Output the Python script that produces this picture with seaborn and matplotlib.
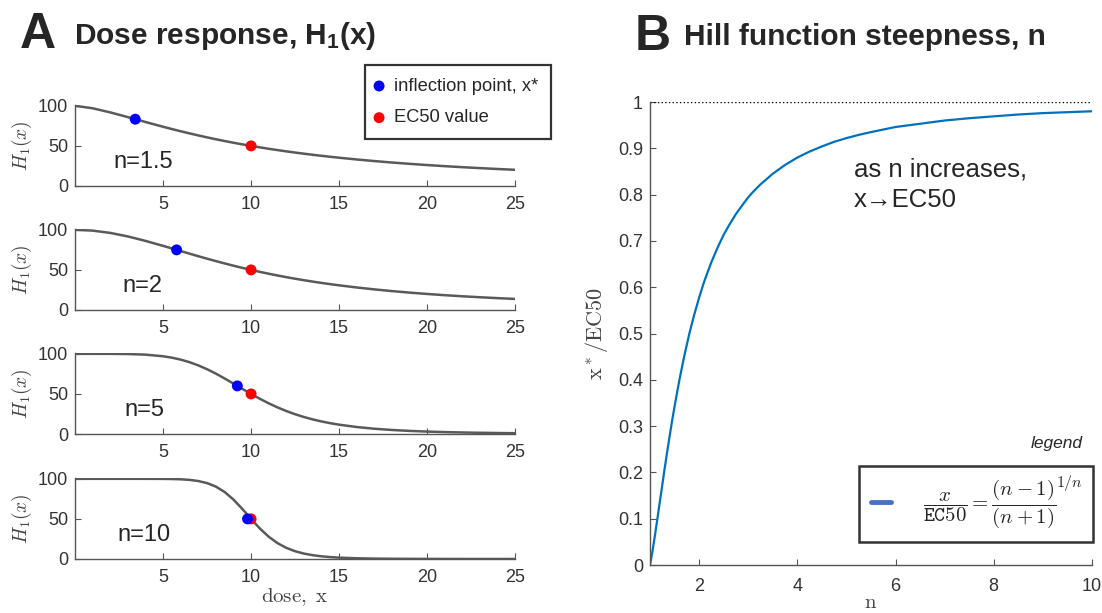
import numpy as np
import pandas as pd
import matplotlib
matplotlib.use("Agg")
import matplotlib.pyplot as plt
from matplotlib.lines import Line2D
import seaborn as sns

# dose axis and H1(x) (EC50 = 10)
dose = [0, 1, 2, 3, 4, 5, 5.5, 6, 6.5, 7, 7.5, 8, 8.5, 9, 9.5, 10, 10.5, 11, 11.5, 12,
        12.5, 13, 13.5, 14, 14.5, 15, 16, 17, 18, 19, 20, 21, 22, 23, 24, 25]
h_n15 = [100, 96.93, 91.79, 85.89, 79.81, 73.88, 71.03, 68.27, 65.62, 63.07, 60.62, 58.29,
         56.06, 53.94, 51.92, 50.00, 48.17, 46.43, 44.78, 43.20, 41.71, 40.29, 38.93, 37.64,
         36.42, 35.25, 33.07, 31.09, 29.28, 27.63, 26.12, 24.73, 23.46, 22.28, 21.19, 20.19]
h_n2 = [100, 99.01, 96.15, 91.74, 86.21, 80.00, 76.78, 73.53, 70.30, 67.11, 64.00, 60.98,
        58.06, 55.25, 52.56, 50.00, 47.56, 45.25, 43.06, 40.98, 39.02, 37.17, 35.43, 33.78,
        32.23, 30.77, 28.09, 25.71, 23.58, 21.69, 20.00, 18.48, 17.12, 15.90, 14.79, 13.79]
h_n5 = [100, 100.0, 99.97, 99.76, 98.99, 96.97, 95.21, 92.79, 89.60, 85.61, 80.82, 75.32,
        69.27, 62.87, 56.38, 50.00, 43.93, 38.30, 33.21, 28.67, 24.68, 21.22, 18.23, 15.68,
        13.49, 11.64, 8.71, 6.58, 5.03, 3.88, 3.03, 2.39, 1.90, 1.53, 1.24, 1.01]
h_n10 = [100, 100, 100, 100, 99.99, 99.90, 99.75, 99.40, 98.67, 97.25, 94.67, 90.30,
         83.55, 74.15, 62.55, 50.00, 38.04, 27.83, 19.82, 13.91, 9.70, 6.76, 4.74, 3.34,
         2.38, 1.70, 0.90, 0.49, 0.28, 0.16, 0.10, 0.06, 0.04, 0.02, 0.02, 0.01]

n_labels = ["n=1.5", "n=2", "n=5", "n=10"]
infl_x = [3.42, 5.77, 9.22, 9.80]
infl_y = [83.3, 75.0, 60.0, 50.0]
ec50_x = [10, 10, 10, 10]
ec50_y = [50, 50, 50, 50]

# panel B: x*/EC50 against n
n_vals = [1, 1.02, 1.05, 1.1, 1.15, 1.2, 1.25, 1.3, 1.35, 1.4, 1.45, 1.5, 1.6, 1.7, 1.8,
          1.9, 2, 2.1, 2.25, 2.4, 2.5, 2.6, 2.75, 2.9, 3, 3.1, 3.25, 3.5, 3.75, 4, 4.25,
          4.5, 4.75, 5, 5.25, 5.5, 6, 6.5, 7, 7.5, 8, 8.5, 9, 9.5, 10]
ratio = [0, 0.011, 0.029, 0.063, 0.099, 0.136, 0.172, 0.209, 0.244, 0.278, 0.311, 0.342,
         0.400, 0.452, 0.499, 0.540, 0.577, 0.611, 0.654, 0.691, 0.713, 0.732, 0.758,
         0.780, 0.794, 0.806, 0.822, 0.845, 0.864, 0.880, 0.893, 0.904, 0.914, 0.922,
         0.929, 0.935, 0.946, 0.953, 0.960, 0.965, 0.969, 0.973, 0.976, 0.978, 0.980]

sns.set_style("ticks")
plt.rcParams['font.family'] = ['Liberation Sans', 'DejaVu Sans']
plt.rcParams['mathtext.fontset'] = 'custom'
plt.rcParams['mathtext.rm'] = 'Liberation Sans'
plt.rcParams['mathtext.bf'] = 'Liberation Sans:bold'
plt.rcParams['mathtext.it'] = 'Liberation Sans:italic'

tick_col = '#333333'
spine_col = '#555555'


def style_axis(ax, xpad, ypad):
    sns.despine(ax=ax)
    for s in ['left', 'bottom']:
        ax.spines[s].set_color(spine_col)
        ax.spines[s].set_linewidth(1.0)
    ax.tick_params(direction='in', length=4, width=0.8, colors=spine_col,
                   labelcolor=tick_col, labelsize=13)
    ax.tick_params(axis='x', pad=xpad)
    ax.tick_params(axis='y', pad=ypad)


fig = plt.figure(figsize=(11.02, 6.13), dpi=100)

curves = [h_n15, h_n2, h_n5, h_n10]
bottoms = [0.6966, 0.4943, 0.2920, 0.0881]
text_x = [2.2, 2.7, 2.8, 2.4]
left_axes = []
for i in range(4):
    ax = fig.add_axes([0.0681, bottoms[i], 0.3993, 0.1321])
    df = pd.DataFrame({'dose': dose, 'H': curves[i]})
    sns.lineplot(data=df, x='dose', y='H', ax=ax, color='#5a5a5a', lw=1.8)
    sns.scatterplot(x=[infl_x[i]], y=[infl_y[i]], ax=ax, color='#0000ff', s=62,
                    edgecolor='none', zorder=4, label='inflection point, x*')
    sns.scatterplot(x=[ec50_x[i]], y=[ec50_y[i]], ax=ax, color='#ff0000', s=62,
                    edgecolor='none', zorder=3, label='EC50 value')
    ax.set_xlim(0, 25)
    ax.set_ylim(0, 101)
    ax.set_xticks([5, 10, 15, 20, 25])
    ax.set_yticks([0, 50, 100])
    ax.set_ylabel(r'$H_1(x)$', math_fontfamily='cm', fontsize=14, color='#444444',
                  labelpad=3)
    ax.set_xlabel('')
    ax.text(text_x[i], 22, n_labels[i], fontsize=17, va='baseline')
    ax.get_legend().remove()
    style_axis(ax, 7, 5)
    left_axes.append(ax)

left_axes[-1].set_xlabel(r'$\mathrm{dose,\ x}$', math_fontfamily='cm', fontsize=15,
                         color='#444444', labelpad=0)

handles, labels = left_axes[0].get_legend_handles_labels()
leg = fig.legend(handles, labels, loc='upper left', bbox_to_anchor=(0.3315, 0.894),
                 fontsize=13.2, frameon=True, fancybox=False, edgecolor='black',
                 handletextpad=0.75, borderpad=0.7, labelspacing=0.8,
                 handlelength=0.1, borderaxespad=0)
leg.get_frame().set_linewidth(1.6)

# panel B
axb = fig.add_axes([0.5898, 0.0783, 0.4011, 0.7553])
dfb = pd.DataFrame({'n': n_vals, 'ratio': ratio})
sns.lineplot(data=dfb, x='n', y='ratio', ax=axb, color='#0072BD', lw=1.6)
axb.axhline(1, color='black', ls=':', lw=1)
axb.set_xlim(1, 10)
axb.set_ylim(0, 1)
axb.set_xticks([2, 4, 6, 8, 10])
axb.set_yticks(np.arange(0, 1.01, 0.1))
axb.set_yticklabels(['0', '0.1', '0.2', '0.3', '0.4', '0.5', '0.6', '0.7', '0.8',
                     '0.9', '1'])
axb.set_xlabel(r'$\mathrm{n}$', math_fontfamily='cm', fontsize=15, color='#444444',
               labelpad=-1)
axb.set_ylabel(r'$\mathrm{x}^*\mathrm{/EC50}$', math_fontfamily='cm', fontsize=16,
               color='#444444', labelpad=6)
style_axis(axb, 9, 5)
axb.text(5.15, 0.84, 'as n increases,', fontsize=18.5, va='baseline')
axb.text(5.15, 0.773, 'x\u2192EC50', fontsize=18.5, va='baseline')

# equation in the legend; room is kept at its end for the 1/n exponent
eq = r'$\dfrac{x}{\mathtt{EC50}}=\dfrac{(n-1)}{(n+1)}$' + '\u00a0' * 5
legb = axb.legend(handles=[Line2D([], [], color='#4472C4', lw=3.5)], labels=[eq],
                  loc='lower right', bbox_to_anchor=(1.003, 0.05),
                  frameon=True, fancybox=False, edgecolor='black', handlelength=1.0,
                  handletextpad=1.5, borderpad=0.55, borderaxespad=0,
                  prop={'math_fontfamily': 'cm', 'size': 15})
legb.get_frame().set_linewidth(1.8)
axb.text(0.98, 0.263, 'legend', transform=axb.transAxes, ha='right', va='center',
         fontsize=12.5, style='italic')

fig.canvas.draw()
tb = legb.get_texts()[0].get_window_extent()
ex, ey = fig.transFigure.inverted().transform((tb.x1 + 1, tb.y1 + 5))
fig.text(ex, ey, r'$1/n$', math_fontfamily='cm', fontsize=11.5, ha='right', va='top')

# panel titles
fig.text(0.018, 0.922, 'A', fontsize=36, fontweight='bold', va='baseline')
fig.text(0.067, 0.928, r'Dose response, H$_\mathbf{1}$(x)', fontsize=21.5,
         fontweight='bold', va='baseline')
fig.text(0.576, 0.919, 'B', fontsize=36, fontweight='bold', va='baseline')
fig.text(0.621, 0.927, 'Hill function steepness, n', fontsize=21.5, fontweight='bold',
         va='baseline')

fig.savefig('out.png', dpi=100)
